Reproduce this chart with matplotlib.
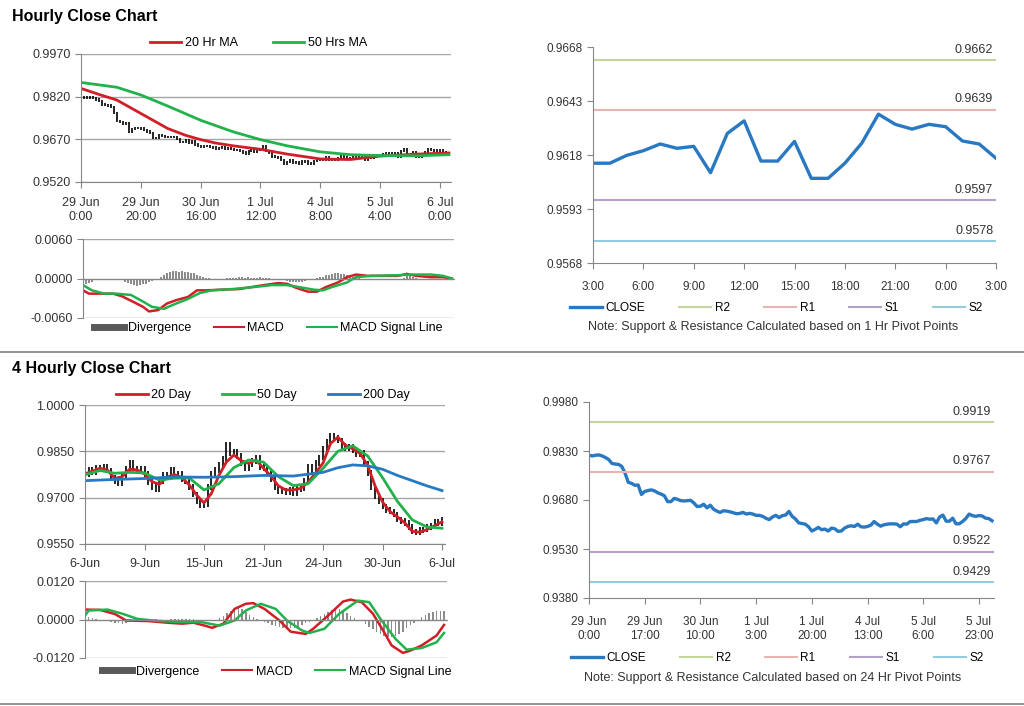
import numpy as np
import matplotlib.pyplot as plt
from matplotlib.lines import Line2D
from matplotlib.ticker import FormatStrFormatter

plt.rcParams['font.family'] = ['Liberation Sans', 'DejaVu Sans']

# hourly closes, 29 Jun 0:00 .. 6 Jul 3:00
hourly_close = [
    0.9817, 0.9815, 0.9817, 0.9818, 0.9815, 0.9810, 0.9804, 0.9792, 0.9790, 0.9789,
    0.9783, 0.9762, 0.9734, 0.9731, 0.9725, 0.9726, 0.9697, 0.9706, 0.9709, 0.9711,
    0.9708, 0.9702, 0.9698, 0.9693, 0.9675, 0.9675, 0.9685, 0.9682, 0.9678, 0.9677,
    0.9678, 0.9679, 0.9671, 0.9660, 0.9661, 0.9667, 0.9656, 0.9664, 0.9652, 0.9646,
    0.9642, 0.9647, 0.9646, 0.9644, 0.9641, 0.9638, 0.9639, 0.9642, 0.9637, 0.9639,
    0.9637, 0.9633, 0.9633, 0.9630, 0.9624, 0.9620, 0.9628, 0.9633, 0.9626, 0.9632,
    0.9634, 0.9645, 0.9630, 0.9622, 0.9610, 0.9608, 0.9606, 0.9598, 0.9585, 0.9590,
    0.9596, 0.9589, 0.9591, 0.9585, 0.9594, 0.9592, 0.9584, 0.9585, 0.9594, 0.9599,
    0.9601, 0.9599, 0.9606, 0.9598, 0.9597, 0.9599, 0.9603, 0.9614, 0.9606, 0.9600,
    0.9604, 0.9606, 0.9607, 0.9607, 0.9606, 0.9598, 0.9607, 0.9606, 0.9614,
    0.96142, 0.96142, 0.96178, 0.96200, 0.96231, 0.96211, 0.96220, 0.96098, 0.96280, 0.96338,
    0.96152, 0.96152, 0.96243, 0.96072, 0.96072, 0.96142, 0.96234, 0.96369, 0.96322, 0.96300,
    0.96322, 0.96311, 0.96245, 0.96231, 0.96165,
]
hourly_ticks = ['29 Jun\n0:00', '29 Jun\n20:00', '30 Jun\n16:00', '1 Jul\n12:00',
                '4 Jul\n8:00', '5 Jul\n4:00', '6 Jul\n0:00']

ma20h_x = [0, 6, 12, 20, 29, 35, 40, 45, 51, 60, 69, 80, 90, 100, 112, 123]
ma20h = [0.9849, 0.9828, 0.9808, 0.9761, 0.9708, 0.9684, 0.9669, 0.9657, 0.9647,
         0.9635, 0.9618, 0.9601, 0.9599, 0.9611, 0.9618, 0.9622]
ma50h_x = [0, 12, 20, 29, 40, 51, 60, 69, 80, 90, 100, 112, 123]
ma50h = [0.9870, 0.9853, 0.9826, 0.9787, 0.9737, 0.9696, 0.9669, 0.9647, 0.9626,
         0.9616, 0.9613, 0.9612, 0.9616]

# hourly MACD (x 1e-4)
macd_h_x = [0, 2, 6, 10, 13, 17, 20, 22, 25, 28, 31, 35, 38, 41, 46, 52, 59, 65, 68, 71,
            75, 78, 81, 85, 88, 91, 95, 99, 105, 108, 111, 116, 120, 123]
macd_h = [-18, -23, -23, -23, -27, -36, -43, -50, -48, -38, -33, -28, -18, -18, -17, -16,
          -11, -7, -8, -14, -20, -20, -13, -6, 2, 6, 4, 4, 4, 7, 4, 2, 2, 0]
sig_h_x = [0, 3, 7, 11, 16, 20, 23, 27, 30, 35, 39, 43, 50, 57, 63, 68, 72, 77, 80, 83,
           88, 91, 96, 105, 110, 116, 120, 123]
sig_h = [-10, -18, -23, -23, -25, -35, -43, -46, -40, -31, -22, -18, -16, -13, -10, -10,
         -13, -17, -18, -13, -6, 2, 4, 5, 6, 6, 4, 0]
div_h = [-8, -8, -7, -6,
         -3, -2, -2, -1, -1, -1, -1, -2, -2, -3,
         -5, -7, -9, -10, -11, -10, -9, -8, -6,
         -4, -2, 0, 3,
         6, 9, 10, 11, 11, 10, 11, 10, 10, 9, 8, 6, 4,
         2, 1, 1, 0, 0, -1, -1, 0,
         1, 1, 1, 1, 2, 2, 1, 2, 1, 1, 1, 2, 1, 1, 1, 0, 0, -1, -2,
         -3, -4, -5, -6, -6, -5, -5, -4, -3, -2, -1,
         1, 2, 3, 5, 6, 7, 8, 8, 7, 7, 6, 5, 3, 2, 1,
         0, -1, -1, -1, -1, -1, -1, -1, -1, 0, 0, -1, -1, 0, 1,
         4, 4, 3,
         1, -1, -2, -2, -2, -2, -2, -2, -2, -1, -2, -2, -1]

# 4 hourly closes, 6 Jun .. 6 Jul
close_4h = [
    0.9775, 0.9790, 0.9783, 0.9798, 0.9792, 0.9800, 0.9788, 0.9765, 0.9752, 0.9748,
    0.9770, 0.9792, 0.9812, 0.9795, 0.9788, 0.9792, 0.9776, 0.9750, 0.9735, 0.9728,
    0.9752, 0.9775, 0.9768, 0.9790, 0.9770, 0.9776, 0.9760, 0.9752, 0.9735, 0.9710,
    0.9690, 0.9675, 0.9680, 0.9735, 0.9778, 0.9790, 0.9805, 0.9825, 0.9870, 0.9845,
    0.9848, 0.9835, 0.9810, 0.9795, 0.9808, 0.9818, 0.9830, 0.9800, 0.9796, 0.9780,
    0.9760, 0.9735, 0.9720, 0.9722, 0.9718, 0.9724, 0.9716, 0.9728, 0.9730, 0.9755,
    0.9800, 0.9790, 0.9812, 0.9830, 0.9858, 0.9880, 0.9900, 0.9895, 0.9885, 0.9868,
    0.9860, 0.9865, 0.9852, 0.9842, 0.9845, 0.9810, 0.9780, 0.9735, 0.9705, 0.9690,
    0.9672, 0.9660, 0.9655, 0.9645, 0.9630, 0.9625, 0.9618, 0.9605, 0.9590, 0.9588,
    0.9595, 0.9597, 0.9605, 0.9610, 0.9622, 0.9618, 0.9630,
]
ticks_4h = ['6-Jun', '9-Jun', '15-Jun', '21-Jun', '24-Jun', '30-Jun', '6-Jul']

ma20d_x = list(range(0, 97, 2))
ma20d = [0.9777, 0.9786, 0.9795, 0.9790, 0.9762, 0.9768, 0.9792, 0.9790, 0.9777, 0.9752,
         0.9743, 0.9766, 0.9775, 0.9765, 0.9742, 0.9709, 0.9683, 0.9714, 0.9772, 0.9815,
         0.9838, 0.9820, 0.9811, 0.9822, 0.9795, 0.9770, 0.9738, 0.9725, 0.9725, 0.9730,
         0.9750, 0.9780, 0.9812, 0.9875, 0.9896, 0.9870, 0.9858, 0.9843, 0.9805, 0.9738,
         0.9686, 0.9655, 0.9638, 0.9618, 0.9591, 0.9588, 0.9597, 0.9609, 0.9622]
ma50d_x = list(range(0, 97, 4))
ma50d = [0.9774, 0.9788, 0.9779, 0.9782, 0.9780, 0.9757, 0.9763, 0.9764, 0.9725, 0.9745,
         0.9797, 0.9822, 0.9815, 0.9768, 0.9739, 0.9745, 0.9795, 0.9850, 0.9868, 0.9835,
         0.9765, 0.9688, 0.9628, 0.9605, 0.9601]
ma200d_x = [0, 8, 16, 24, 32, 40, 48, 56, 64, 68, 72, 76, 80, 84, 88, 92, 96]
ma200d = [0.9755, 0.9759, 0.9762, 0.9767, 0.9766, 0.9768, 0.9772, 0.9770, 0.9782, 0.9797,
          0.9806, 0.9803, 0.9792, 0.9772, 0.9755, 0.9738, 0.9723]

# 4 hourly MACD (x 1e-4)
macd_4_x = [0, 4, 8, 11, 17, 22, 26, 29, 32, 34, 37, 40, 43, 45, 48, 52, 55, 59, 61, 65,
            69, 71, 74, 77, 80, 82, 85, 87, 90, 94, 96]
macd_4 = [31, 30, 17, -3, -5, -10, -13, -10, -19, -26, -13, 33, 49, 51, 33, -3, -38, -45,
          -29, 12, 56, 62, 54, 18, -40, -81, -104, -97, -81, -50, -17]
sig_4_x = [0, 1, 6, 10, 14, 19, 25, 31, 36, 40, 43, 47, 51, 54, 58, 60, 64, 68, 73, 76,
           79, 83, 86, 90, 94, 96]
sig_4 = [12, 28, 31, 18, 2, -4, -8, -8, -19, -3, 28, 49, 33, -3, -34, -42, -29, 18, 59, 54,
         2, -60, -94, -89, -71, -42]
div_4 = [10, 8, 5,
         2, -1, -3, -5,
         -8, -10, -12, -13, -11,
         -8, -6, -4,
         -2, -1, 0, 1, 1, 0, -1, 0, 1, 1, 2,
         3, 3, 2, 1, -1,
         -3, -4, -5, -4, -2,
         5, 12, 20, 28, 33, 36, 32,
         24, 15, 8, 2,
         -3, -8, -12, -16,
         -20, -24, -27, -29, -28, -26, -22, -17,
         -12, -7, -2,
         5, 12, 18, 24, 29, 33, 32, 27, 20,
         12, 6, 0, -6,
         -14, -22, -30, -38, -44, -50, -54, -55, -52, -46, -38, -28,
         -18, -10, -2,
         8, 15, 20, 23, 25, 26, 26]

# last 24 hours for the pivot chart
pivot_hours = ['3:00', '6:00', '9:00', '12:00', '15:00', '18:00', '21:00', '0:00', '3:00']
close_24 = hourly_close[-25:]
pivot_names = ['R2', 'R1', 'S1', 'S2']
pivot_1h = [0.9662, 0.9639, 0.9597, 0.9578]
pivot_24h = [0.9919, 0.9767, 0.9522, 0.9429]
ticks_24h = ['29 Jun\n0:00', '29 Jun\n17:00', '30 Jun\n10:00', '1 Jul\n3:00',
             '1 Jul\n20:00', '4 Jul\n13:00', '5 Jul\n6:00', '5 Jul\n23:00']

RED = '#d01f26'
GREEN = '#21b24b'
BLUE = '#2878c2'
GRAY = '#868686'
TXT = '#333333'
pivot_colors = ['#c3d69b', '#e8b4b2', '#b3a2c7', '#93cddd']

fig = plt.figure(figsize=(10.24, 7.06), dpi=100)


def px_axes(x0, y0, x1, y1):
    return fig.add_axes([x0 / 1024, 1 - y1 / 706, (x1 - x0) / 1024, (y1 - y0) / 706])


def style(ax, size=9):
    for s in ['top', 'right']:
        ax.spines[s].set_visible(False)
    for s in ['left', 'bottom']:
        ax.spines[s].set_color(GRAY)
    ax.tick_params(colors=GRAY, labelcolor=TXT, length=4, labelsize=size)
    ax.set_axisbelow(True)


def draw_bars(ax, close, pad):
    c = np.asarray(close)
    prev = np.r_[c[0], c[:-1]]
    ax.vlines(np.arange(len(c)), np.minimum(c, prev) - pad, np.maximum(c, prev) + pad,
              color='black', lw=1.2)


def macd_panel(ax, n, div, mx, m, sx, s, lim, xmax):
    style(ax)
    ax.bar(np.arange(n), np.array(div) * 1e-4, width=0.4, color='#8c8c8c')
    ax.plot(mx, np.array(m) * 1e-4, color=RED, lw=1.8)
    ax.plot(sx, np.array(s) * 1e-4, color=GREEN, lw=1.8)
    ax.set_ylim(-lim, lim)
    ax.set_xlim(0, xmax)
    ax.set_yticks([-lim, 0, lim])
    ax.yaxis.set_major_formatter(FormatStrFormatter('%.4f'))
    ax.yaxis.grid(True, color='#a6a6a6', lw=1)
    ax.spines['bottom'].set_position(('data', 0))
    ax.spines['bottom'].set_linewidth(0.8)
    ax.tick_params(axis='x', length=0, labelbottom=False)


def macd_legend(ax, xc, yc):
    handles = [Line2D([], [], color='#595959', lw=5),
               Line2D([], [], color=RED, lw=1.5),
               Line2D([], [], color=GREEN, lw=1.5)]
    ax.legend(handles, ['Divergence', 'MACD', 'MACD Signal Line'], loc='center',
              bbox_to_anchor=(xc, yc), ncol=3, frameon=False, fontsize=9,
              handlelength=2.4, columnspacing=1.8, handletextpad=0.3)


def pivot_panel(ax, x, close, levels, xmax):
    style(ax, 8.5)
    ax.plot(x, close, color=BLUE, lw=2.4, label='CLOSE')
    for name, lev, col in zip(pivot_names, levels, pivot_colors):
        ax.axhline(lev, color=col, lw=1.5, label=name)
        ax.annotate(f'{lev:.4f}', (xmax, lev), xytext=(-2, 3), textcoords='offset points',
                    ha='right', va='bottom', fontsize=9, color=TXT)
    ax.set_xlim(0, xmax)
    ax.yaxis.set_major_formatter(FormatStrFormatter('%.4f'))
    ax.tick_params(axis='x', pad=9)


# ---------- Hourly close chart ----------
fig.text(12 / 1024, 1 - 16 / 706, 'Hourly Close Chart', fontsize=11.5, fontweight='bold',
         va='center', color='black')

ax1 = px_axes(81, 54, 451, 182)
style(ax1)
draw_bars(ax1, hourly_close, 0.0004)
ax1.plot(ma20h_x, ma20h, color=RED, lw=2, label='20 Hr MA')
ax1.plot(ma50h_x, ma50h, color=GREEN, lw=2, label='50 Hrs MA')
ax1.set_ylim(0.9520, 0.9970)
ax1.set_yticks([0.9520, 0.9670, 0.9820, 0.9970])
ax1.yaxis.set_major_formatter(FormatStrFormatter('%.4f'))
ax1.yaxis.grid(True, color='#a6a6a6', lw=1)
ax1.set_xlim(0, 123.7)
ax1.set_xticks(range(0, 121, 20))
ax1.set_xticklabels(hourly_ticks)
ax1.tick_params(axis='x', pad=7)
ax1.legend(loc='center', bbox_to_anchor=(0.48, 1.086), ncol=2, frameon=False, fontsize=9,
           handlelength=2.5, columnspacing=2.8, handletextpad=0.3)

ax2 = px_axes(83, 239, 454, 318)
macd_panel(ax2, len(div_h), div_h, macd_h_x, macd_h, sig_h_x, sig_h, 0.006, 123.7)
macd_legend(ax2, 0.5, -0.13)

ax3 = px_axes(593, 47, 996, 263)
pivot_panel(ax3, np.arange(len(close_24)), close_24, pivot_1h, 24)
ax3.set_ylim(0.9568, 0.9668)
ax3.set_yticks([0.9568, 0.9593, 0.9618, 0.9643, 0.9668])
ax3.set_xticks(range(0, 25, 3))
ax3.set_xticklabels(pivot_hours)
ax3.legend(loc='center', bbox_to_anchor=(0.455, -0.21), ncol=5, frameon=False, fontsize=8.5,
           handlelength=2.7, columnspacing=2.9, handletextpad=0.3)
fig.text(773 / 1024, 1 - 327 / 706, 'Note: Support & Resistance Calculated based on 1 Hr Pivot Points',
         ha='center', va='center', fontsize=9, color=TXT)

# ---------- 4 Hourly close chart ----------
fig.text(12 / 1024, 1 - 369 / 706, '4 Hourly Close Chart', fontsize=11.5, fontweight='bold',
         va='center', color='black')

ax4 = px_axes(85, 405, 445, 544)
style(ax4)
draw_bars(ax4, close_4h, 0.0009)
ax4.plot(ma20d_x, ma20d, color=RED, lw=2, label='20 Day')
ax4.plot(ma50d_x, ma50d, color=GREEN, lw=2, label='50 Day')
ax4.plot(ma200d_x, ma200d, color=BLUE, lw=2, label='200 Day')
ax4.set_ylim(0.9550, 1.0000)
ax4.set_yticks([0.9550, 0.9700, 0.9850, 1.0000])
ax4.yaxis.set_major_formatter(FormatStrFormatter('%.4f'))
ax4.yaxis.grid(True, color='#a6a6a6', lw=1)
ax4.set_xlim(0, 96.8)
ax4.set_xticks(range(0, 97, 16))
ax4.set_xticklabels(ticks_4h)
ax4.tick_params(axis='x', pad=6)
ax4.legend(loc='center', bbox_to_anchor=(0.495, 1.072), ncol=3, frameon=False, fontsize=9,
           handlelength=2.5, columnspacing=2.5, handletextpad=0.3)

ax5 = px_axes(85, 581, 447, 658)
macd_panel(ax5, len(div_4), div_4, macd_4_x, macd_4, sig_4_x, sig_4, 0.012, 96.8)
macd_legend(ax5, 0.53, -0.18)

ax6 = px_axes(589, 402, 994, 598)
pivot_panel(ax6, np.arange(len(hourly_close)), hourly_close, pivot_24h, 123.6)
ax6.set_ylim(0.9380, 0.9980)
ax6.set_yticks([0.9380, 0.9530, 0.9680, 0.9830, 0.9980])
ax6.set_xticks(range(0, 120, 17))
ax6.set_xticklabels(ticks_24h)
ax6.legend(loc='center', bbox_to_anchor=(0.465, -0.306), ncol=5, frameon=False, fontsize=8.5,
           handlelength=2.7, columnspacing=2.9, handletextpad=0.3)
fig.text(773 / 1024, 1 - 678 / 706, 'Note: Support & Resistance Calculated based on 24 Hr Pivot Points',
         ha='center', va='center', fontsize=9, color=TXT)

# section separators
for yy in [352, 704]:
    fig.add_artist(Line2D([0, 1], [1 - yy / 706, 1 - yy / 706], color='#7f7f7f', lw=1.2))

fig.savefig('out.png', dpi=100)
